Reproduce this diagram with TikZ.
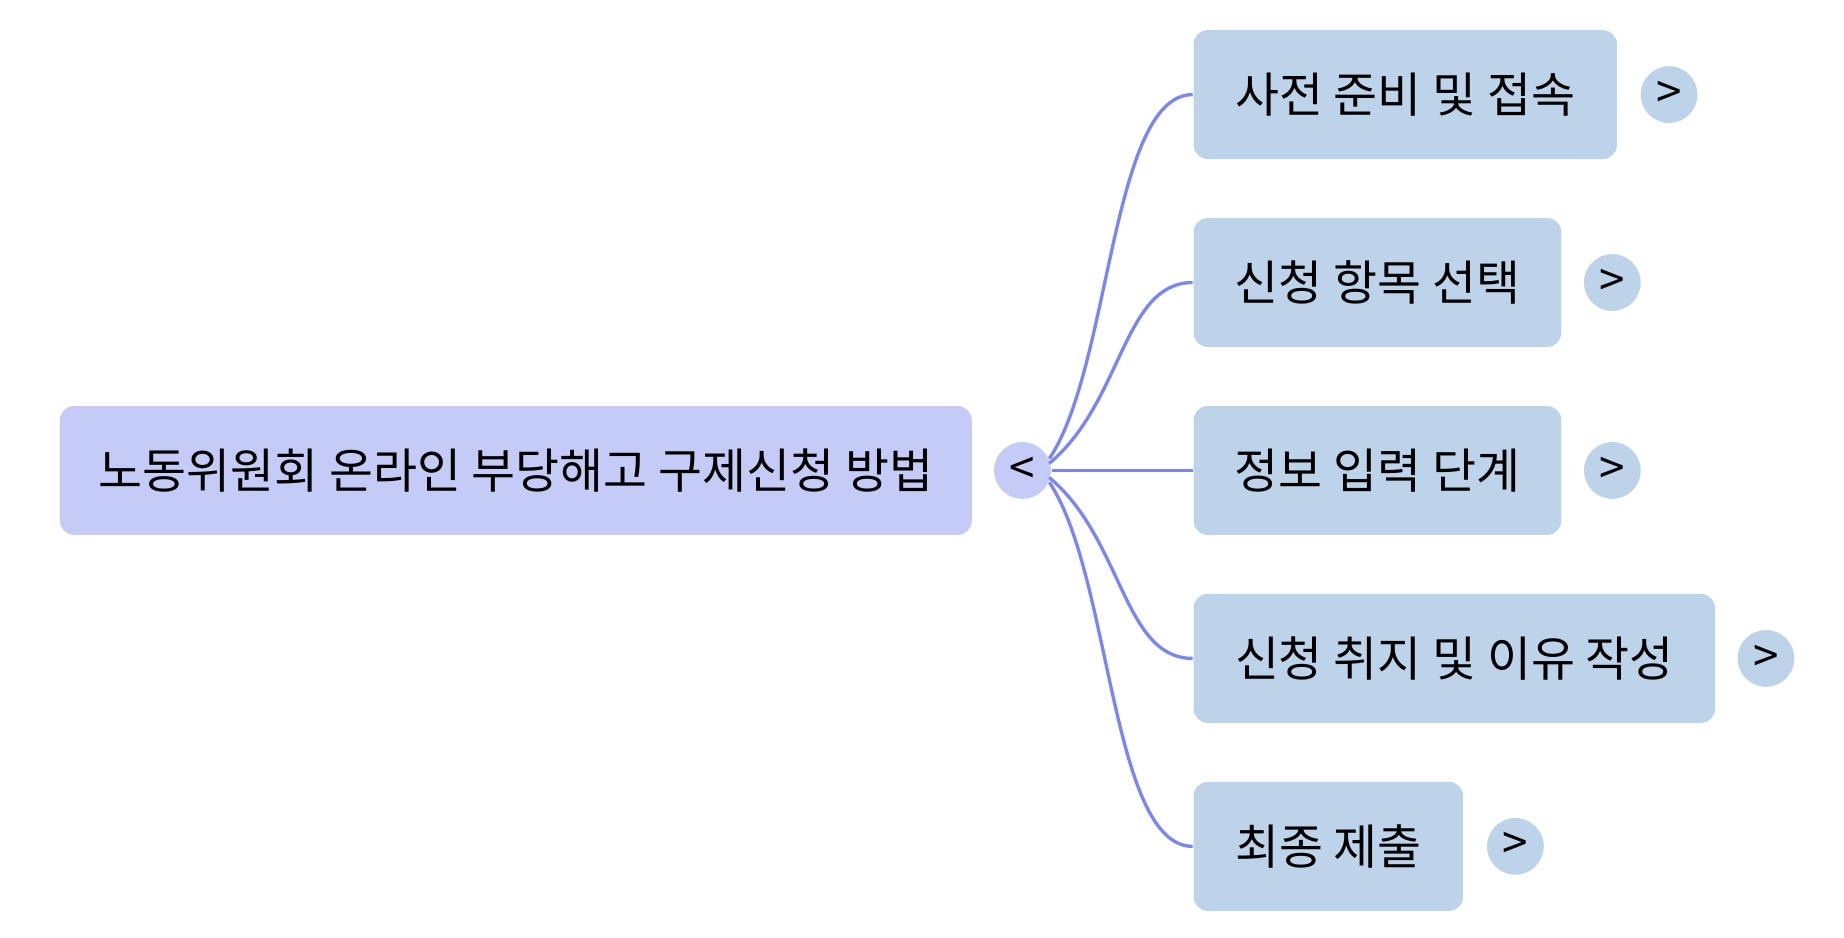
\documentclass[tikz,border=0pt]{standalone}
\usepackage{fontspec}
\setmainfont{Noto Sans CJK KR}
\usepackage{tikz}
\usetikzlibrary{positioning}
\definecolor{rootfill}{HTML}{C3CBF6}
\definecolor{leaffill}{HTML}{BCD3EA}
\definecolor{linkblue}{HTML}{7B86F0}
\tikzstyle{root}=[fill=rootfill,rounded corners=0.12cm,minimum height=1.09cm,anchor=west,inner sep=0,font=\fontsize{11.5}{13}\selectfont]
\tikzstyle{leaf}=[fill=leaffill,rounded corners=0.12cm,minimum height=1.09cm,anchor=west,inner sep=0,font=\fontsize{11.5}{13}\selectfont]
\tikzstyle{knob}=[circle,minimum size=0.48cm,inner sep=0,font=\fontsize{11}{13}\selectfont]
\tikzstyle{link}=[draw=linkblue,line width=0.8pt]

\begin{document}
\begin{tikzpicture}[x=0.01cm,y=-0.01cm]
\useasboundingbox (0,0) rectangle (1560,793);
	\node[root,minimum width=7.71cm] (main) at (50,398) {노동위원회 온라인 부당해고 구제신청 방법};
	\node[knob,fill=rootfill] (fold) at (865,398) {<};

	\node[leaf,minimum width=3.58cm] (prep) at (1009,80) {사전 준비 및 접속};
	\node[leaf,minimum width=3.11cm] (pick) at (1009,239) {신청 항목 선택};
	\node[leaf,minimum width=3.11cm] (info) at (1009,398) {정보 입력 단계};
	\node[leaf,minimum width=4.41cm] (why) at (1009,557) {신청 취지 및 이유 작성};
	\node[leaf,minimum width=2.28cm] (send) at (1009,716) {최종 제출};

	\node[knob,fill=leaffill] (kprep) at (1412,80) {>};
	\node[knob,fill=leaffill] (kpick) at (1364,239) {>};
	\node[knob,fill=leaffill] (kinfo) at (1364,398) {>};
	\node[knob,fill=leaffill] (kwhy) at (1494,557) {>};
	\node[knob,fill=leaffill] (ksend) at (1282,716) {>};

	\path[link] (fold.east) ++(-2,-10) .. controls (940,310) and (940,80) .. (prep.west);
	\path[link] (fold.east) ++(-2,-6) .. controls (950,340) and (950,239) .. (pick.west);
	\path[link] (fold.east) -- (info.west);
	\path[link] (fold.east) ++(-2,6) .. controls (950,456) and (950,557) .. (why.west);
	\path[link] (fold.east) ++(-2,10) .. controls (940,486) and (940,716) .. (send.west);
\end{tikzpicture}
\end{document}
